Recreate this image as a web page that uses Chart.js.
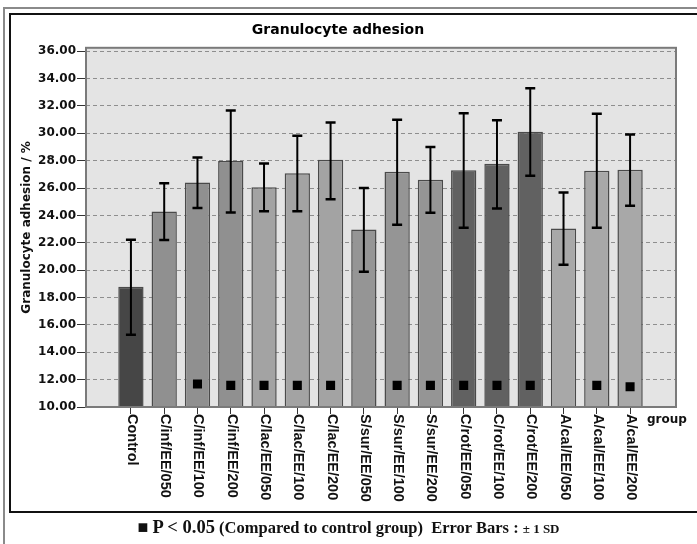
<!DOCTYPE html>
<html>
<head>
<meta charset="utf-8">
<script src="https://cdn.jsdelivr.net/npm/chart.js@4.4.1/dist/chart.umd.min.js"></script>
<style>
  html, body { margin: 0; padding: 0; background: #fff; }
  #wrap { position: relative; width: 697px; height: 544px; overflow: hidden; }
  canvas { position: absolute; left: 0; top: 0; }
  #foot { position: absolute; left: 0; width: 697px; top: 517px; text-align: center;
          font-family: 'Liberation Serif', 'Times New Roman', serif; font-weight: bold; color: #111;
          font-size: 16.5px; white-space: nowrap; }
  #foot .big { font-size: 18.5px; }
  #foot .sm { font-size: 13px; }
  #foot .sq { font-size: 18px; }
</style>
</head>
<body>
<div id="wrap">
  <canvas id="c" width="697" height="544"></canvas>
  <div id="foot"><span class="sq">&#9632;</span> <span class="big">P &lt; 0.05</span> (Compared to control group)&nbsp; Error Bars : <span class="sm">± 1 SD</span></div>
</div>
<script>
const categories = ['Control','C/inf/EE/050','C/inf/EE/100','C/inf/EE/200','C/lac/EE/050','C/lac/EE/100','C/lac/EE/200','S/sur/EE/050','S/sur/EE/100','S/sur/EE/200','C/rot/EE/050','C/rot/EE/100','C/rot/EE/200','A/cal/EE/050','A/cal/EE/100','A/cal/EE/200'];
const means   = [18.79, 24.29, 26.41, 27.97, 26.05, 27.09, 28.07, 22.98, 27.19, 26.60, 27.31, 27.78, 30.11, 23.05, 27.26, 27.34];
const errLow  = [15.28, 22.20, 24.54, 24.22, 24.30, 24.31, 25.19, 19.89, 23.32, 24.20, 23.10, 24.51, 26.90, 20.40, 23.10, 24.70];
const errHigh = [22.22, 26.36, 28.24, 31.67, 27.80, 29.82, 30.80, 26.00, 31.00, 29.00, 31.47, 30.96, 33.30, 25.68, 31.43, 29.92];
const markerY = [null, null, 11.68, 11.58, 11.58, 11.58, 11.58, null, 11.58, 11.58, 11.58, 11.58, 11.58, null, 11.58, 11.48];
const yTicks  = [10, 12, 14, 16, 18, 20, 22, 24, 26, 28, 30, 32, 34, 36];
const chartTitle = 'Granulocyte adhesion';
const yTitle = 'Granulocyte adhesion / %';
const xTitle = 'group';

const barColors = ['#464646','#909090','#909090','#909090','#a3a3a3','#a3a3a3','#a3a3a3','#959595','#959595','#959595','#616161','#616161','#616161','#a8a8a8','#a8a8a8','#a8a8a8'];

const framePlugin = {
  id: 'frame',
  beforeDraw(chart) {
    const ctx = chart.ctx, a = chart.chartArea;
    ctx.save();
    ctx.strokeStyle = '#8a8a8a'; ctx.lineWidth = 2;
    ctx.beginPath(); ctx.moveTo(4, 546); ctx.lineTo(4, 8); ctx.lineTo(700, 8); ctx.stroke();
    ctx.strokeStyle = '#111'; ctx.lineWidth = 2;
    ctx.beginPath(); ctx.moveTo(700, 512); ctx.lineTo(10, 512); ctx.lineTo(10, 14); ctx.lineTo(700, 14); ctx.stroke();
    ctx.fillStyle = '#e4e4e4';
    ctx.fillRect(a.left, a.top, a.right - a.left, a.bottom - a.top);
    ctx.restore();
  },
  afterDatasetsDraw(chart) {
    const ctx = chart.ctx, xs = chart.scales.x, ys = chart.scales.y, a = chart.chartArea;
    ctx.save();
    ctx.strokeStyle = '#000';
    categories.forEach((c, i) => {
      const x = xs.getPixelForValue(i);
      const yh = ys.getPixelForValue(errHigh[i]);
      const yl = ys.getPixelForValue(errLow[i]);
      ctx.lineWidth = 2;
      ctx.beginPath(); ctx.moveTo(x, yh); ctx.lineTo(x, yl); ctx.stroke();
      ctx.lineWidth = 2.5;
      ctx.beginPath();
      ctx.moveTo(x - 5, yh); ctx.lineTo(x + 5, yh);
      ctx.moveTo(x - 5, yl); ctx.lineTo(x + 5, yl);
      ctx.stroke();
    });
    ctx.strokeStyle = '#7a7a7a'; ctx.lineWidth = 2;
    ctx.strokeRect(a.left, a.top, a.right - a.left, a.bottom - a.top);
    ctx.restore();
  },
  afterDraw(chart) {
    const ctx = chart.ctx, xs = chart.scales.x, a = chart.chartArea;
    ctx.save();
    ctx.fillStyle = '#111';
    ctx.font = 'bold 14.5px "Liberation Sans", Arial, sans-serif';
    ctx.textAlign = 'left'; ctx.textBaseline = 'middle';
    categories.forEach((c, i) => {
      const x = xs.getPixelForValue(i);
      ctx.save();
      ctx.translate(x + 1, a.bottom + 7);
      ctx.rotate(Math.PI / 2);
      ctx.fillText(c, 0, 0);
      ctx.restore();
    });
    ctx.font = 'bold 12px "DejaVu Sans", sans-serif';
    ctx.textAlign = 'left'; ctx.textBaseline = 'middle';
    ctx.fillText(xTitle, 647, a.bottom + 13);
    ctx.restore();
  }
};

new Chart(document.getElementById('c'), {
  type: 'bar',
  data: {
    datasets: [
      {
        type: 'line',
        data: markerY.map((v, i) => ({ x: i, y: v })),
        showLine: false,
        pointStyle: 'rect',
        pointRadius: 6.4,
        pointBackgroundColor: '#000',
        pointBorderWidth: 0,
        order: 0
      },
      {
        type: 'bar',
        data: means.map((v, i) => ({ x: i, y: v })),
        backgroundColor: barColors,
        borderColor: '#4a4a4a',
        borderWidth: 1.5,
        barPercentage: 0.76,
        categoryPercentage: 1,
        order: 1
      }
    ]
  },
  options: {
    responsive: false,
    animation: false,
    events: [],
    layout: { padding: { left: 0, right: 21, top: 14, bottom: 0 } },
    plugins: {
      legend: { display: false },
      tooltip: { enabled: false },
      title: {
        display: true, text: chartTitle, color: '#000',
        font: { family: 'DejaVu Sans', size: 14, weight: 'bold' },
        padding: { top: 8, bottom: 9 }
      }
    },
    scales: {
      x: {
        type: 'linear',
        offset: false,
        min: -1.35, max: 16.38,
        afterBuildTicks: s => { s.ticks = categories.map((c, i) => ({ value: i })); },
        afterFit: s => { s.height = 137; },
        ticks: { display: false },
        border: { display: false },
        grid: { display: true, offset: false, drawOnChartArea: false, drawTicks: true, tickLength: 7, tickColor: '#333', tickWidth: 1 }
      },
      y: {
        min: 10, max: 36.25,
        afterBuildTicks: s => { s.ticks = yTicks.map(v => ({ value: v })); },
        afterFit: s => { s.width = 86; },
        border: { display: false, dash: [4, 3] },
        ticks: {
          padding: 1, color: '#111',
          font: { family: 'DejaVu Sans', size: 12, weight: 'bold' },
          callback: v => Number(v).toFixed(2)
        },
        grid: { color: '#8e8e8e', lineWidth: 1, tickLength: 9, tickColor: '#333', tickBorderDash: [], tickWidth: 1 },
        title: {
          display: true, text: yTitle, color: '#111',
          font: { family: 'DejaVu Sans', size: 12, weight: 'bold' },
          padding: { top: 20, bottom: 0 }
        }
      }
    }
  },
  plugins: [framePlugin]
});
</script>
</body>
</html>
